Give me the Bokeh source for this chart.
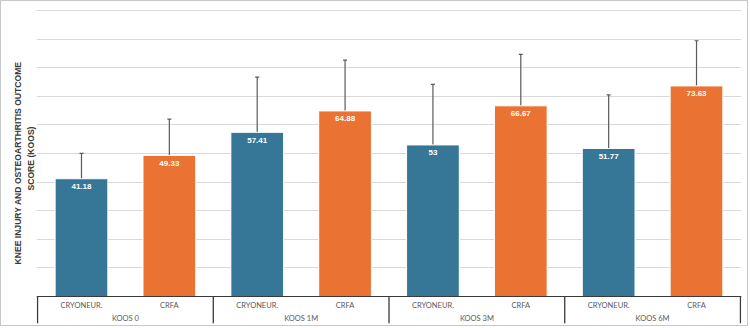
from bokeh.plotting import figure
from bokeh.models import (ColumnDataSource, FactorRange, Range1d, FixedTicker, Whisker,
                          TeeHead, Span, Title)
from bokeh.core.properties import value
from bokeh.embed import file_html
from bokeh.resources import INLINE

groups = ["KOOS 0", "KOOS 1M", "KOOS 3M", "KOOS 6M"]
subgroups = ["CRYONEUR.", "CRFA"]
cryo_means = [41.18, 57.41, 53.0, 51.77]
crfa_means = [49.33, 64.88, 66.67, 73.63]
cryo_sd = [8.9, 19.3, 21.2, 18.7]
crfa_sd = [12.7, 17.8, 18.0, 15.8]
grid_ticks = [10, 20, 30, 40, 50, 60, 70, 80, 90, 100]
y_title_lines = ["KNEE INJURY AND OSTEOARTHRITIS  OUTCOME", "SCORE (KOOS)"]

colors = {"CRYONEUR.": "#367798", "CRFA": "#EA7232"}

xs, tops, sds, cols, labels = [], [], [], [], []
for i, g in enumerate(groups):
    for s, m, sd in ((subgroups[0], cryo_means[i], cryo_sd[i]), (subgroups[1], crfa_means[i], crfa_sd[i])):
        xs.append((g, s))
        tops.append(m)
        sds.append(sd)
        cols.append(colors[s])
        labels.append(f"{m:g}")

src = ColumnDataSource(dict(
    x=xs, top=tops, color=cols, label=labels,
    upper=[t + s for t, s in zip(tops, sds)],
    lower=[t - s for t, s in zip(tops, sds)],
    sub=[x[1] for x in xs],
))

x_range = FactorRange(*xs, factor_padding=0, group_padding=0, range_padding=0.003)
y_range = Range1d(-9.44, 103.15)

p = figure(width=748, height=326, x_range=x_range, y_range=y_range,
           output_backend="svg", toolbar_location=None, tools="",
           min_border_left=35, min_border_right=8, min_border_top=0, min_border_bottom=4,
           x_axis_location=None, y_axis_location=None)
p.styles = {"border": "1px solid #c8c8c8"}
p.outline_line_color = None
p.background_fill_color = "white"
p.border_fill_color = "white"

# two-line rotated y title (nearest line added first)
for line, off in zip(reversed(y_title_lines), [133, 59]):
    p.add_layout(Title(text=line, align="left", offset=off, standoff=1,
                       text_font="Liberation Sans", text_font_style="bold",
                       text_font_size="8.6px", text_color="#3a3a3a"), "left")

p.xgrid.grid_line_color = None
p.ygrid.ticker = FixedTicker(ticks=grid_ticks)
p.ygrid.grid_line_color = "#d9d9d9"
p.ygrid.grid_line_width = 1

p.vbar(x="x", top="top", bottom=0, width=0.6, source=src, fill_color="color",
       line_color="white", line_width=1)

w = Whisker(base="x", upper="upper", lower="lower", source=src,
            line_color="#5a5a5a", line_width=1.2,
            upper_head=TeeHead(size=4, line_color="#5a5a5a", line_width=1.2),
            lower_head=TeeHead(size=4, line_color="#5a5a5a", line_width=1.2))
p.add_layout(w)

p.text(x="x", y="top", text="label", source=src, text_color="white",
       text_font=value("Liberation Sans"), text_font_style="bold", text_font_size="8px",
       text_align="center", text_baseline="middle", y_offset=8)

# axis line
p.add_layout(Span(location=0, dimension="width", line_color="#3a3a3a", line_width=1.2))

# group separators (at group boundaries in synthetic coordinates)
n_sub = len(subgroups)
sep_x = [i * n_sub for i in range(len(groups) + 1)]
p.segment(x0=sep_x, y0=[0] * len(sep_x), x1=sep_x, y1=[-9.44] * len(sep_x),
          line_color="#3a3a3a", line_width=1.3)

# subgroup labels
p.text(x="x", y=-3.3, text="sub", source=src, text_color="#595959",
       text_font=value("Lato"), text_font_size="7.5px",
       text_align="center", text_baseline="middle")
# group labels
gsrc = ColumnDataSource(dict(x=groups, text=groups))
p.text(x="x", y=-7.69, text="text", source=gsrc, text_color="#595959",
       text_font=value("Lato"), text_font_size="7.5px",
       text_align="center", text_baseline="middle")

open("out.html", "w").write(file_html(p, INLINE))
